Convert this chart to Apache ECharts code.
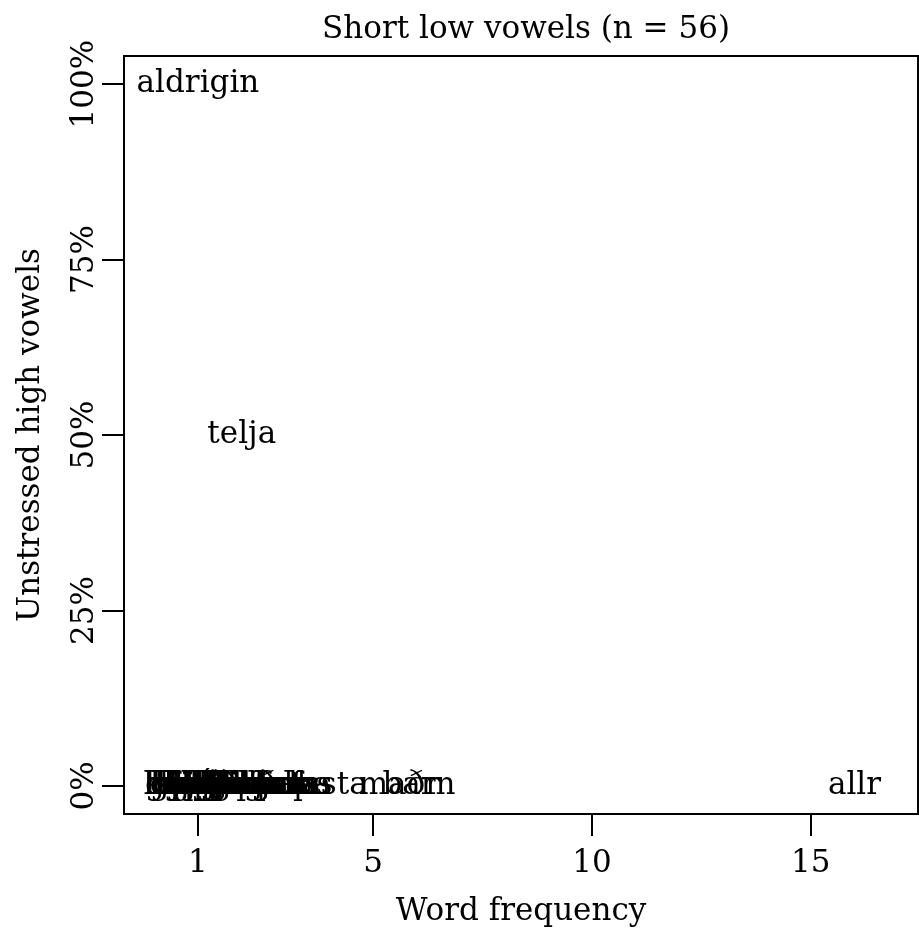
<!DOCTYPE html>
<html>
<head>
<meta charset="utf-8">
<script src="https://cdn.jsdelivr.net/npm/echarts@6/dist/echarts.min.js"></script>
<style>html,body{margin:0;padding:0;background:#fff}#c{width:919px;height:942px}</style>
</head>
<body>
<div id="c"></div>
<script>
const titleText = 'Short low vowels (n = 56)';
const xName = 'Word frequency';
const yName = 'Unstressed high vowels';
const xTicks = [1, 5, 10, 15];
const yTicks = [0, 25, 50, 75, 100];
const words = ['aldrigin','telja','allr','barn','maðr','fasta',
  'kallaðr','hjalpa','spakr','dagr','land','jarl','karl','halda','vald','hafa',
  'taka','saga','staf','skal','gamall','hafna','vatn','lag','ganga','hlaupa',
  'kasta','sagði','aptr','hvat','margr','harðr','fjall','hand','lapa','brjóta',
  'hjarta','falla','vaka','klappa','hafr','varð','hagr','aka','kvalr','sal',
  'fara','gras','gata','skapa','lambs','falr','hamarr','svara','raka','halr'];
const freq = [1, 2, 16, 6.05, 5.6, 4,
  1,1,1,1,1,1,1,1,1,1,
  1,1,1,1,1,1,1,1,1,1,
  1,1,1,1,1,1,1,1,1,1,
  2,2,2,2,2,2,2,2,2,2,
  3,3,3,3,3,3,2,2,3,1];
const pct = [100, 50, 0, 0, 0, 0,
  0,0,0,0,0,0,0,0,0,0,
  0,0,0,0,0,0,0,0,0,0,
  0,0,0,0,0,0,0,0,0,0,
  0,0,0,0,0,0,0,0,0,0,
  0,0,0,0,0,0,0,0,0,0];

const FONT = 'DejaVu Serif';
const FS = 31;
const chart = echarts.init(document.getElementById('c'), null, {renderer: 'canvas'});
const pts = words.map((w, i) => ({name: w, value: [freq[i], pct[i]]}));
chart.setOption({
  animation: false,
  backgroundColor: '#fff',
  title: {
    text: titleText, left: 521, top: 9, textAlign: 'center',
    textStyle: {fontFamily: FONT, fontSize: FS, fontWeight: 'normal', color: '#000'}
  },
  grid: {left: 124, right: 1, top: 56, bottom: 128, show: true, borderColor: '#000', borderWidth: 2,
    containLabel: false, outerBoundsMode: 'none'},
  xAxis: {
    type: 'value', min: -0.69, max: 17.45,
    name: xName, nameLocation: 'middle', nameGap: 82,
    nameTextStyle: {fontFamily: FONT, fontSize: FS, color: '#000'},
    axisLine: {show: true, onZero: false, lineStyle: {color: '#000', width: 2}},
    axisTick: {show: true, length: 22, customValues: xTicks, lineStyle: {color: '#000', width: 2}},
    axisLabel: {show: true, customValues: xTicks, margin: 34, fontFamily: FONT, fontSize: FS, color: '#000'},
    splitLine: {show: false}
  },
  yAxis: {
    type: 'value', min: -4, max: 104,
    name: yName, nameLocation: 'middle', nameGap: 78, nameRotate: 90,
    nameTextStyle: {fontFamily: FONT, fontSize: FS, color: '#000'},
    axisLine: {show: true, onZero: false, lineStyle: {color: '#000', width: 2}},
    axisTick: {show: true, length: 22, customValues: yTicks, lineStyle: {color: '#000', width: 2}},
    axisLabel: {show: true, customValues: yTicks, rotate: 90, margin: 24, fontFamily: FONT, fontSize: FS, color: '#000',
      formatter: v => v + '%'},
    splitLine: {show: false}
  },
  series: [{
    type: 'scatter', symbol: 'circle', symbolSize: 0,
    itemStyle: {opacity: 1, color: '#000'},
    data: pts,
    label: {show: true, position: 'inside', formatter: '{b}', fontFamily: FONT, fontSize: FS, color: '#000', opacity: 1},
    labelLayout: {hideOverlap: false},
    emphasis: {disabled: true}
  }]
});
</script>
</body>
</html>
